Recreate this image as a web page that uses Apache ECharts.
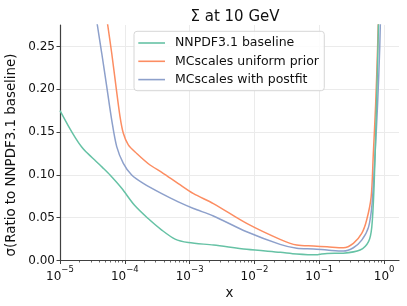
<!DOCTYPE html>
<html><head><meta charset="utf-8">
<script src="https://cdn.jsdelivr.net/npm/echarts@6/dist/echarts.min.js"></script>
<style>html,body{margin:0;padding:0;background:#fff}#c{width:407px;height:306px}</style>
</head><body><div id="c"></div>
<script>
// x values are stored as log10(x)
const baselineLogX = [-5, -4.87, -4.76, -4.665, -4.6, -4.537, -4.46, -4.35, -4.228, -4.048, -3.85, -3.64, -3.43, -3.225, -3.02, -2.63, -2.12, -1.6, -1.35, -1.04, -0.99, -0.88, -0.63, -0.37, -0.24, -0.19, -0.155, -0.124, -0.097, -0.075];
const baselineVal  = [0.175, 0.157, 0.143, 0.1325, 0.127, 0.1225, 0.117, 0.109, 0.0998, 0.0843, 0.0645, 0.049, 0.0355, 0.025, 0.021, 0.018, 0.013, 0.0095, 0.0076, 0.0066, 0.0072, 0.0082, 0.0086, 0.0122, 0.022, 0.039, 0.086, 0.163, 0.241, 0.32];

const uniformLogX = [-4.31, -4.264, -4.202, -4.136, -4.074, -4.023, -3.946, -3.816, -3.611, -3.43, -3.175, -2.94, -2.634, -2.12, -1.605, -1.347, -1.09, -0.88, -0.628, -0.474, -0.345, -0.27, -0.2, -0.166, -0.13, -0.1, -0.075];
const uniformVal  = [0.30, 0.275, 0.242, 0.203, 0.168, 0.1485, 0.135, 0.125, 0.1115, 0.103, 0.0898, 0.078, 0.0665, 0.0433, 0.0247, 0.018, 0.0169, 0.016, 0.0149, 0.020, 0.0316, 0.047, 0.074, 0.125, 0.183, 0.249, 0.32];

const postfitLogX = [-4.47, -4.424, -4.356, -4.279, -4.202, -4.125, -4.023, -3.894, -3.715, -3.43, -3.175, -2.94, -2.634, -2.12, -1.605, -1.347, -1.09, -0.88, -0.628, -0.474, -0.345, -0.24, -0.185, -0.139, -0.1, -0.067, -0.045];
const postfitVal  = [0.30, 0.275, 0.242, 0.203, 0.164, 0.133, 0.1135, 0.0998, 0.090, 0.078, 0.0684, 0.0607, 0.052, 0.0335, 0.0188, 0.0142, 0.0134, 0.0122, 0.011, 0.0149, 0.0238, 0.039, 0.0665, 0.125, 0.183, 0.249, 0.32];

const xMajorTicks = [-5, -4, -3, -2, -1, 0];
const yTicks = [0, 0.05, 0.10, 0.15, 0.20, 0.25];
const seriesNames = ['NNPDF3.1 baseline', 'MCscales uniform prior', 'MCscales with postfit'];
const colors = ['#66c2a5', '#fc8d62', '#8da0cb'];

const minorTicks = [];
for (let n = -5; n <= -1; n++) for (let k = 2; k <= 9; k++) minorTicks.push(n + Math.log10(k));

const zip = (a, b) => a.map((v, i) => [v, b[i]]);
const FONT = 'DejaVu Sans';
const axisCol = '#404040';
const gridCol = '#ebebeb';

const chart = echarts.init(document.getElementById('c'), null, {renderer: 'canvas'});
const mk = (i, xs, ys) => ({
  name: seriesNames[i], type: 'line', data: zip(xs, ys), symbol: 'none', showSymbol: false,
  smooth: 0.3, clip: true,
  lineStyle: {color: colors[i], width: 1.5}, itemStyle: {color: colors[i]}, z: 3 + (i === 0 ? 2 : i === 2 ? 1 : 0)
});

chart.setOption({
  animation: false,
  textStyle: {fontFamily: FONT},
  title: {text: 'Σ at 10 GeV', left: 230, top: 5, textAlign: 'center',
    textStyle: {fontFamily: FONT, fontSize: 15, fontWeight: 'normal', color: '#111'}},
  grid: {left: 60, right: 8, top: 25, bottom: 45.5, containLabel: false},
  legend: {
    data: seriesNames, left: 134, top: 31.3, orient: 'vertical',
    icon: 'rect', itemWidth: 26.7, itemHeight: 1.6, itemGap: 4.3,
    padding: [4.7, 5.3, 4.1, 4.3],
    backgroundColor: 'rgba(255,255,255,0.85)', borderColor: '#d6d6d6', borderWidth: 1, borderRadius: 3,
    textStyle: {fontFamily: FONT, fontSize: 12.5, color: '#111', padding: [0, 0, 0, 5], lineHeight: 14}
  },
  graphic: [{
    type: 'text', x: 12, y: 155, rotation: Math.PI / 2,
    style: {text: 'σ(Ratio to NNPDF3.1 baseline)', fontFamily: FONT, fontSize: 13.4, fill: '#111',
      align: 'center', verticalAlign: 'middle'}
  }],
  xAxis: [{
    type: 'value', min: -5, max: 0.23, interval: 1,
    name: 'x', nameLocation: 'middle', nameGap: 22,
    nameTextStyle: {fontFamily: FONT, fontSize: 13.4, color: '#111'},
    axisLine: {show: true, onZero: false, lineStyle: {color: axisCol, width: 1.2}},
    axisTick: {show: true, length: 3.5, lineStyle: {color: axisCol}, customValues: xMajorTicks},
    axisLabel: {customValues: xMajorTicks, margin: 5, color: '#111',
      formatter: v => '{b|10}{s|' + (v < 0 ? '−' : '') + Math.abs(Math.round(v)) + '}',
      rich: {b: {fontFamily: FONT, fontSize: 12, color: '#111', lineHeight: 17, verticalAlign: 'bottom'},
             s: {fontFamily: FONT, fontSize: 8.5, color: '#111', lineHeight: 9, verticalAlign: 'top'}}},
    splitLine: {show: true, lineStyle: {color: [gridCol, gridCol, gridCol, gridCol, gridCol, gridCol, 'rgba(0,0,0,0)'], width: 1}}
  }, {
    type: 'value', min: -5, max: 0.23, position: 'bottom', gridIndex: 0,
    axisLine: {show: false, onZero: false}, axisLabel: {show: false}, splitLine: {show: false},
    axisTick: {show: true, length: 2, lineStyle: {color: axisCol, width: 0.8}, customValues: minorTicks}
  }],
  yAxis: {
    type: 'value', min: 0, max: 0.275, interval: 0.05,
    axisLine: {show: true, onZero: false, lineStyle: {color: axisCol, width: 1.2}},
    axisTick: {show: true, length: 3.5, lineStyle: {color: axisCol}, customValues: yTicks},
    axisLabel: {customValues: yTicks, margin: 5, fontFamily: FONT, fontSize: 12, color: '#111',
      formatter: v => v.toFixed(2)},
    splitLine: {show: true, lineStyle: {color: [gridCol, gridCol, gridCol, gridCol, gridCol, gridCol, 'rgba(0,0,0,0)'], width: 1}}
  },
  series: [mk(0, baselineLogX, baselineVal), mk(1, uniformLogX, uniformVal), mk(2, postfitLogX, postfitVal)]
});
</script></body></html>
